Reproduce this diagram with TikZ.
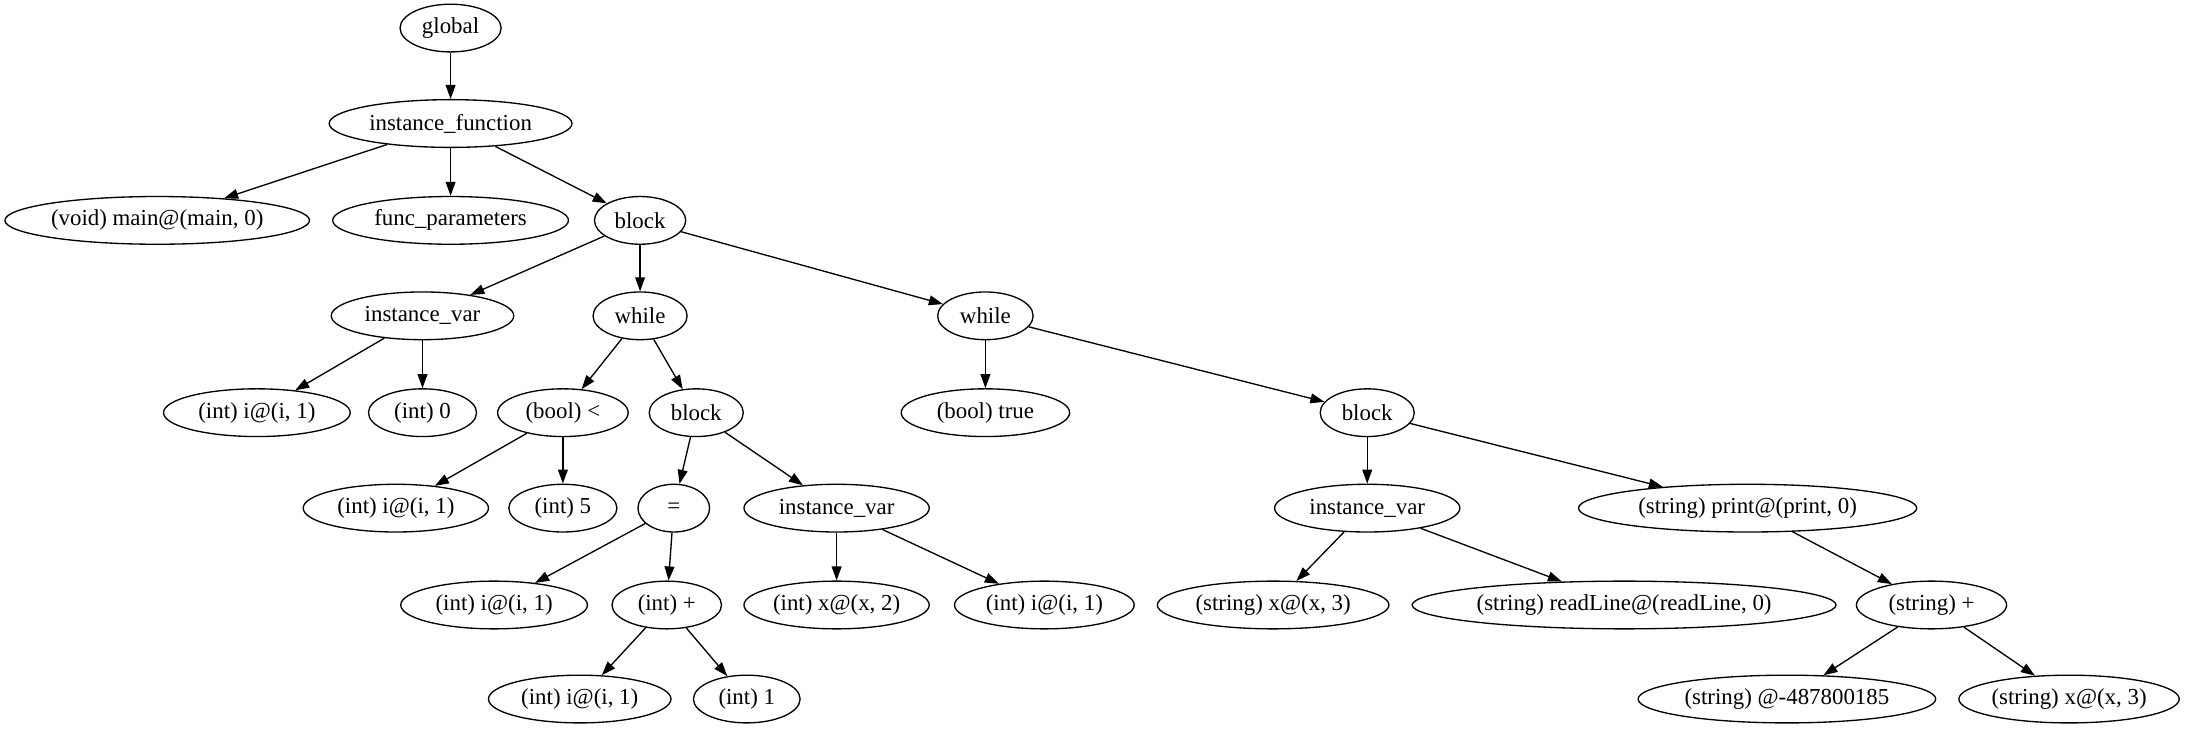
\documentclass[tikz,border=0pt]{standalone}
\usepackage{fontspec}
\setmainfont{Liberation Serif}
\usepackage{tikz}
\usetikzlibrary{shapes.geometric}
\usetikzlibrary{arrows.meta}
\tikzset{
  tnode/.style 2 args={draw, ellipse, line width=.95pt, inner sep=0pt,
    minimum height=34pt, minimum width=#1, label={center:#2}},
  edge/.style={line width=.95pt, -{Triangle[length=10pt,width=7pt]}}
}

\begin{document}
\begin{tikzpicture}[x=1pt, y=-1pt, font=\fontsize{16.3}{19}\selectfont]
    \useasboundingbox (0,0) rectangle (1568,521);
    % rank 0 and 1
    \node[tnode={72pt}{global}] (glob) at (321,20) {};
    \node[tnode={173pt}{instance\_function}] (ifun) at (321,88) {};
    % rank 2
    \node[tnode={217pt}{(void) main@(main, 0)}] (main) at (112,157) {};
    \node[tnode={168pt}{func\_parameters}] (fparam) at (321,157) {};
    \node[tnode={65pt}{block}] (blockA) at (456,157) {};
    % rank 3
    \node[tnode={130pt}{instance\_var}] (ivarA) at (301,225) {};
    \node[tnode={67pt}{while}] (whileA) at (456,225) {};
    \node[tnode={68pt}{while}] (whileB) at (702,225) {};
    % rank 4
    \node[tnode={133pt}{(int) i@(i, 1)}] (iA) at (183,294) {};
    \node[tnode={77pt}{(int) 0}] (intzero) at (301,294) {};
    \node[tnode={93pt}{(bool) <}] (boollt) at (401,294) {};
    \node[tnode={67pt}{block}] (blockB) at (496,294) {};
    \node[tnode={120pt}{(bool) true}] (booltrue) at (702,294) {};
    \node[tnode={67pt}{block}] (blockC) at (974,294) {};
    % rank 5
    \node[tnode={132pt}{(int) i@(i, 1)}] (iB) at (282,362) {};
    \node[tnode={77pt}{(int) 5}] (intfive) at (401,362) {};
    \node[tnode={51pt}{=}] (assign) at (480,362) {};
    \node[tnode={132pt}{instance\_var}] (ivarB) at (596,362) {};
    \node[tnode={132pt}{instance\_var}] (ivarC) at (974,362) {};
    \node[tnode={241pt}{(string) print@(print, 0)}] (print) at (1245,362) {};
    % rank 6
    \node[tnode={133pt}{(int) i@(i, 1)}] (iC) at (352,431) {};
    \node[tnode={78pt}{(int) +}] (intplus) at (475,431) {};
    \node[tnode={132pt}{(int) x@(x, 2)}] (xA) at (596,431) {};
    \node[tnode={128pt}{(int) i@(i, 1)}] (iD) at (744,431) {};
    \node[tnode={165pt}{(string) x@(x, 3)}] (sxA) at (907,431) {};
    \node[tnode={302pt}{(string) readLine@(readLine, 0)}] (readline) at (1157,431) {};
    \node[tnode={107pt}{(string) +}] (strplus) at (1376,431) {};
    % rank 7
    \node[tnode={130pt}{(int) i@(i, 1)}] (iE) at (413,498) {};
    \node[tnode={76pt}{(int) 1}] (intone) at (532,498) {};
    \node[tnode={212pt}{(string) @-487800185}] (strnum) at (1273,498) {};
    \node[tnode={157pt}{(string) x@(x, 3)}] (sxB) at (1474,498) {};
    % edges
    \foreach \a/\b in {glob/ifun, ifun/main, ifun/fparam, ifun/blockA,
        blockA/ivarA, blockA/whileA, blockA/whileB, ivarA/iA, ivarA/intzero,
        whileA/boollt, whileA/blockB, whileB/booltrue, whileB/blockC,
        boollt/iB, boollt/intfive, blockB/assign, blockB/ivarB,
        blockC/ivarC, blockC/print, assign/iC, assign/intplus,
        ivarB/xA, ivarB/iD, ivarC/sxA, ivarC/readline, print/strplus,
        intplus/iE, intplus/intone, strplus/strnum, strplus/sxB} {
      \draw[edge] (\a) -- (\b);
    }
\end{tikzpicture}
\end{document}
